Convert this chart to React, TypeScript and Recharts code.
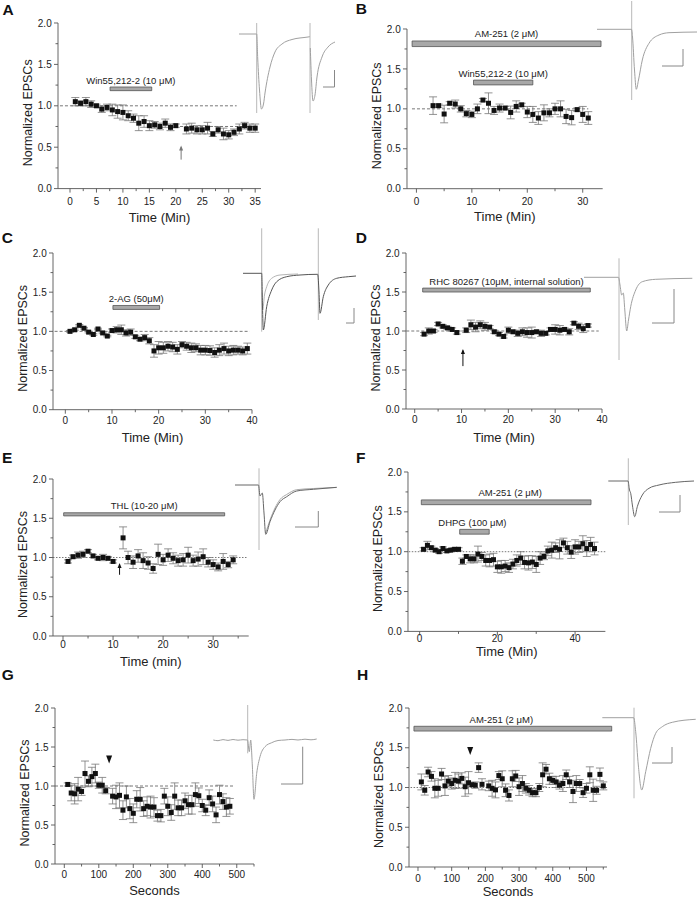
import React from 'react';
import {
  ComposedChart,
  Scatter,
  ErrorBar,
  XAxis,
  YAxis,
  ReferenceLine,
  ReferenceArea,
  ReferenceDot,
  LineChart,
  Line,
} from 'recharts';

/* ------------------------------------------------------------------ */
/*  Eight-panel EPSC time course figure (A–H) with trace insets       */
/* ------------------------------------------------------------------ */

const FONT = '"Liberation Sans", Arial, Helvetica, sans-serif';
const AXIS = '#555';
const TXT = '#222';
const ERR = '#777';

/* ---- A: Win55,212-2 ---- */
const aTime = [1, 2, 3, 4, 5, 6, 7, 8, 9, 10, 11, 12, 13, 14, 15, 16, 17, 18, 19, 20, 22, 23, 24, 25, 26, 27, 28, 29, 30, 31, 32, 33, 34, 35];
const aMean = [1.05, 1.03, 1.05, 1.02, 1.0, 0.96, 0.98, 0.95, 0.93, 0.92, 0.88, 0.85, 0.79, 0.81, 0.76, 0.77, 0.75, 0.79, 0.74, 0.76, 0.72, 0.73, 0.71, 0.71, 0.73, 0.66, 0.71, 0.66, 0.65, 0.68, 0.72, 0.76, 0.73, 0.73];
const aSem = [0.05, 0.03, 0.05, 0.04, 0.02, 0.04, 0.04, 0.07, 0.08, 0.09, 0.06, 0.05, 0.09, 0.07, 0.06, 0.04, 0.04, 0.05, 0.04, 0.02, 0.06, 0.06, 0.05, 0.05, 0.07, 0.03, 0.04, 0.07, 0.05, 0.04, 0.06, 0.04, 0.05, 0.05];

/* ---- B: AM-251 + Win55,212-2 ---- */
const bTime = [3, 4, 5, 6, 7, 8, 9, 10, 11, 12, 13, 14, 15, 16, 17, 18, 19, 20, 21, 22, 23, 24, 25, 26, 27, 28, 29, 30, 31];
const bMean = [1.04, 1.04, 0.935, 1.07, 1.06, 1.0, 0.94, 0.93, 1.0, 1.11, 1.07, 0.98, 1.01, 1.01, 0.955, 1.03, 1.05, 0.96, 0.93, 0.885, 0.95, 0.95, 1.0, 1.0, 0.905, 0.89, 0.99, 0.93, 0.885];
const bSem = [0.11, 0.02, 0.11, 0.02, 0.05, 0.04, 0.04, 0.04, 0.06, 0.02, 0.13, 0.05, 0.05, 0.02, 0.08, 0.07, 0.02, 0.07, 0.1, 0.08, 0.1, 0.05, 0.07, 0.1, 0.09, 0.09, 0.02, 0.1, 0.08];

/* ---- C: 2-AG ---- */
const cTime = [1, 2, 3, 4, 5, 6, 7, 8, 9, 10, 11, 12, 13, 14, 15, 16, 17, 18, 19, 20, 21, 22, 23, 24, 25, 26, 27, 28, 29, 30, 31, 32, 33, 34, 35, 36, 37, 38, 39];
const cMean = [1.0, 1.02, 1.077, 1.04, 0.99, 0.96, 1.03, 0.98, 0.94, 1.01, 1.02, 1.02, 0.98, 0.99, 0.93, 0.9, 0.92, 0.88, 0.75, 0.79, 0.79, 0.81, 0.8, 0.77, 0.83, 0.81, 0.79, 0.79, 0.76, 0.76, 0.755, 0.73, 0.76, 0.78, 0.75, 0.76, 0.76, 0.75, 0.78];
const cSem = [0.01, 0.01, 0.01, 0.01, 0.01, 0.01, 0.01, 0.01, 0.01, 0.02, 0.04, 0.06, 0.04, 0.04, 0.02, 0.02, 0.04, 0.04, 0.08, 0.08, 0.07, 0.06, 0.06, 0.06, 0.04, 0.05, 0.06, 0.05, 0.06, 0.06, 0.06, 0.06, 0.07, 0.07, 0.06, 0.06, 0.05, 0.05, 0.07];

/* ---- D: RHC 80267 ---- */
const dTime = [2, 3, 4, 5, 6, 7, 8, 9, 11, 12, 13, 14, 15, 16, 17, 18, 19, 20, 21, 22, 23, 24, 25, 26, 27, 28, 29, 30, 31, 32, 33, 34, 35, 36, 37];
const dMean = [0.96, 1.0, 1.0, 1.09, 1.06, 1.04, 1.02, 0.98, 1.01, 1.08, 1.05, 1.08, 1.06, 1.05, 0.99, 0.96, 0.93, 1.01, 0.99, 0.97, 0.99, 0.98, 0.98, 0.99, 0.97, 0.97, 1.02, 1.02, 1.01, 1.02, 0.99, 1.1, 1.06, 1.03, 1.07];
const dSem = [0.02, 0.04, 0.02, 0.02, 0.02, 0.02, 0.02, 0.02, 0.03, 0.06, 0.06, 0.05, 0.05, 0.02, 0.02, 0.02, 0.02, 0.04, 0.02, 0.04, 0.05, 0.06, 0.07, 0.02, 0.04, 0.02, 0.02, 0.06, 0.06, 0.02, 0.04, 0.02, 0.04, 0.05, 0.02];

/* ---- E: THL ---- */
const eTime = [1, 2, 3, 4, 5, 6, 7, 8, 9, 10, 12, 13, 14, 15, 16, 17, 18, 19, 20, 21, 22, 23, 24, 25, 26, 27, 28, 29, 30, 31, 32, 33, 34];
const eMean = [0.95, 1.01, 1.03, 1.04, 1.08, 1.02, 0.99, 1.0, 0.99, 0.95, 1.25, 1.0, 0.94, 1.02, 0.96, 0.93, 0.86, 1.04, 0.97, 1.03, 0.99, 0.96, 0.97, 1.03, 0.96, 0.98, 1.01, 0.94, 0.91, 0.88, 0.95, 0.91, 0.97];
const eSem = [0.02, 0.02, 0.04, 0.04, 0.02, 0.02, 0.02, 0.04, 0.02, 0.02, 0.14, 0.08, 0.08, 0.08, 0.1, 0.08, 0.06, 0.13, 0.07, 0.08, 0.07, 0.07, 0.08, 0.1, 0.07, 0.09, 0.1, 0.06, 0.06, 0.05, 0.1, 0.04, 0.05];

/* ---- F: AM-251 + DHPG ---- */
const fTime = [1, 2, 3, 4, 5, 6, 7, 8, 9, 10, 11, 12, 13, 14, 15, 16, 17, 18, 19, 20, 21, 22, 23, 24, 25, 26, 27, 28, 29, 30, 31, 32, 33, 34, 35, 36, 37, 38, 39, 40, 41, 42, 43, 44, 45];
const fMean = [1.03, 1.08, 1.05, 1.02, 1.0, 1.04, 1.01, 1.02, 1.03, 1.03, 0.88, 0.94, 0.91, 0.91, 0.97, 0.94, 0.89, 0.89, 0.9, 0.81, 0.81, 0.82, 0.8, 0.845, 0.89, 0.92, 0.865, 0.86, 0.87, 0.84, 0.92, 0.94, 1.01, 1.02, 1.05, 1.03, 1.11, 1.05, 0.995, 1.06, 1.06, 1.1, 1.04, 1.09, 1.04];
const fSem = [0.02, 0.05, 0.02, 0.02, 0.02, 0.02, 0.02, 0.02, 0.02, 0.02, 0.04, 0.02, 0.05, 0.05, 0.1, 0.05, 0.07, 0.08, 0.08, 0.07, 0.08, 0.07, 0.06, 0.06, 0.07, 0.08, 0.08, 0.09, 0.08, 0.1, 0.08, 0.04, 0.06, 0.1, 0.06, 0.12, 0.06, 0.08, 0.08, 0.09, 0.07, 0.1, 0.1, 0.09, 0.08];

/* ---- G: seconds ---- */
const gTime = [10, 20, 30, 40, 50, 60, 70, 80, 90, 100, 110, 120, 140, 150, 160, 170, 180, 190, 200, 210, 220, 230, 240, 250, 260, 270, 280, 290, 300, 310, 320, 330, 340, 350, 360, 370, 380, 390, 400, 410, 420, 430, 440, 450, 460, 470, 480];
const gMean = [1.02, 0.91, 0.9, 0.96, 0.93, 1.16, 1.06, 1.12, 1.16, 1.01, 1.01, 0.94, 0.87, 0.86, 0.88, 0.69, 0.86, 0.71, 0.65, 0.83, 0.83, 0.71, 0.74, 0.73, 0.73, 0.62, 0.62, 0.87, 0.74, 0.66, 0.87, 0.72, 0.72, 0.81, 0.76, 0.76, 0.89, 0.875, 0.75, 0.69, 0.85, 0.77, 0.63, 0.89, 0.8, 0.73, 0.74];
const gSem = [0.02, 0.1, 0.13, 0.15, 0.05, 0.16, 0.07, 0.12, 0.12, 0.04, 0.1, 0.04, 0.1, 0.15, 0.16, 0.12, 0.14, 0.13, 0.12, 0.11, 0.15, 0.1, 0.12, 0.14, 0.12, 0.07, 0.08, 0.1, 0.12, 0.1, 0.17, 0.1, 0.1, 0.1, 0.12, 0.12, 0.15, 0.1, 0.08, 0.07, 0.1, 0.1, 0.1, 0.12, 0.1, 0.12, 0.1];

/* ---- H: AM-251, seconds ---- */
const hTime = [10, 20, 30, 40, 50, 60, 70, 80, 90, 100, 110, 120, 130, 140, 150, 160, 170, 180, 190, 210, 220, 230, 240, 250, 260, 270, 280, 290, 300, 310, 320, 330, 340, 350, 360, 370, 380, 390, 400, 410, 420, 430, 440, 450, 460, 470, 480, 490, 500, 510, 520, 530, 540, 550];
const hMean = [1.07, 0.965, 1.195, 1.14, 0.99, 0.99, 1.17, 1.02, 1.08, 1.05, 1.09, 1.08, 1.115, 1.01, 1.06, 1.035, 1.03, 1.25, 1.04, 1.02, 0.99, 0.97, 1.15, 1.11, 0.965, 0.9, 1.11, 1.145, 1.01, 1.05, 0.99, 0.965, 0.935, 0.935, 1.0, 1.16, 1.23, 1.11, 1.09, 1.07, 1.03, 1.05, 1.16, 1.07, 0.95, 1.05, 1.05, 0.935, 0.99, 1.16, 0.965, 0.965, 1.165, 1.02];
const hSem = [0.1, 0.06, 0.06, 0.06, 0.12, 0.1, 0.07, 0.12, 0.07, 0.07, 0.1, 0.09, 0.07, 0.12, 0.14, 0.02, 0.04, 0.06, 0.07, 0.06, 0.1, 0.1, 0.05, 0.1, 0.08, 0.07, 0.1, 0.07, 0.11, 0.1, 0.06, 0.06, 0.05, 0.05, 0.05, 0.15, 0.06, 0.07, 0.05, 0.07, 0.05, 0.1, 0.06, 0.07, 0.14, 0.1, 0.05, 0.06, 0.06, 0.1, 0.14, 0.05, 0.08, 0.05];

/* ---- tick lists ---- */
const yTicks = [0, 0.25, 0.5, 0.75, 1, 1.25, 1.5, 1.75, 2];
const ticksA = [0, 2.5, 5, 7.5, 10, 12.5, 15, 17.5, 20, 22.5, 25, 27.5, 30, 32.5, 35];
const ticksB = [0, 5, 10, 15, 20, 25, 30];
const ticks40 = [0, 5, 10, 15, 20, 25, 30, 35, 40];
const ticksE = [0, 5, 10, 15, 20, 25, 30, 35];
const ticksF = [0, 10, 20, 30, 40];
const ticksSec = [0, 50, 100, 150, 200, 250, 300, 350, 400, 450, 500, 550];

/* ---- inset traces: [time, amplitude] in inset units ---- */
type TP = [number, number];
const trA1: TP[] = [[1, 86], [18.7, 86], [19.7, 62], [21.5, 30], [23.5, 11], [25.5, 16], [27, 27], [32, 53], [37, 68], [44, 76], [54, 80.5], [70, 83], [71.8, 83.3]];
const trA2: TP[] = [[72.3, 72], [73.5, 40], [75, 19], [77, 25], [79, 43], [84, 63], [90, 73], [97, 78]];
const trB: TP[] = [[2, 75.7], [36.5, 75.7], [37.5, 68], [39.5, 35], [41.3, 15.7], [43.5, 25], [47.3, 45], [54, 61.7], [64, 70], [74, 72.3], [102, 73]];
const trCdark: TP[] = [[5, 63.7], [23.7, 63.7], [24.5, 30], [25.3, 7], [28.7, 30.3], [33.7, 47], [38.7, 55.3], [48.7, 60.3], [62, 62], [79.7, 62.7], [81, 45], [82, 23.7], [85.3, 40.3], [90.3, 52], [98.7, 58.7], [110.3, 60.3], [118, 61]];
const trCgray: TP[] = [[24, 45], [24.7, 27], [26.5, 42], [28.7, 50.3], [33.7, 58.7], [42, 62], [60, 63]];
const trD: TP[] = [[2, 87.7], [36.5, 87.7], [38, 80], [39.7, 70], [41.3, 72], [42.8, 55], [44.7, 34], [46.5, 45], [48.7, 58.3], [53.7, 75], [60.3, 83.3], [73.7, 85.7], [110.3, 86.7]];
const trE: TP[] = [[2, 68], [25.5, 68], [27, 57], [29.3, 60], [31, 40], [32.7, 18.7], [37, 31.3], [42, 43], [47, 51.3], [53.7, 56.3], [63.7, 62], [80.3, 63.7], [103.7, 65.7]];
const trE2: TP[] = [[32.7, 20], [37, 33], [42, 45], [47, 53.5], [53.7, 58.5], [63.7, 63.3], [80.3, 64.5], [103.7, 65.5]];
const trF: TP[] = [[2.3, 47], [22, 47], [23.5, 38], [24.7, 34.7], [26.5, 22], [28.7, 11.3], [31.3, 21.3], [36.3, 33], [43, 39.7], [53, 43], [69.7, 45.7], [88, 47]];
const trG: TP[] = [[3.3, 65], [8, 64.3], [13, 65.4], [18, 64.6], [23, 65.5], [28, 64.8], [33, 65.3], [37.5, 65], [39.3, 53.3], [40.7, 65], [42.3, 40], [44, 5.7], [46.7, 31.7], [50, 48.3], [55, 58.3], [61.7, 62.3], [68, 64.5], [75, 65], [82, 65.6], [88, 65], [95, 65.8], [101, 65.2], [106.7, 66]];
const trH: TP[] = [[2.3, 82.3], [33.7, 82.3], [35.7, 68.3], [38.3, 35], [41.7, 10], [45.7, 28.3], [50.7, 51.7], [55.7, 66.7], [62.3, 73.3], [72.3, 77.7], [95.7, 80.7]];

type Pt = { x: number; y: number; e: number };
const toPts = (t: number[], m: number[], s: number[]): Pt[] => t.map((x, i) => ({ x, y: m[i], e: s[i] }));

interface Drug { label: string; x1: number; x2: number; y1: number; y2: number; shift?: number }
interface Dash { x1: number; x2: number; y: number; dash: string }
interface PanelCfg {
  left: number; right: number; top: number; bottom: number;
  xDomain: [number, number]; xTicks: number[]; xMajor: number;
  xTitle: string; yTitle: string; tickOff: number; titleOff: number;
  pts: Pt[]; dashes: Dash[]; drugs: Drug[];
  arrows: { x: number; y1: number; y2: number; color: string }[];
  heads: { x: number; y: number }[];
}

const DASH = '3 2';
const DOT = '1.5 1.5';

const panels: PanelCfg[] = [
  {
    left: 58, right: 261, top: 22.7, bottom: 188.3, xDomain: [-2.27, 36.1], xTicks: ticksA, xMajor: 5,
    xTitle: 'Time (Min)', yTitle: 'Normalized EPSCs', tickOff: 12.7, titleOff: 28.7,
    pts: toPts(aTime, aMean, aSem),
    dashes: [{ x1: -1.9, x2: 31.5, y: 1, dash: DASH }, { x1: 20.8, x2: 35.3, y: 0.75, dash: DASH }],
    drugs: [{ label: 'Win55,212-2 (10 μM)', x1: 7.57, x2: 15.45, y1: 1.183, y2: 1.227 }],
    arrows: [{ x: 21, y1: 0.35, y2: 0.52, color: '#777' }], heads: [],
  },
  {
    left: 407.3, right: 603, top: 29.3, bottom: 189, xDomain: [-1.7, 33.6], xTicks: ticksB, xMajor: 10,
    xTitle: 'Time (Min)', yTitle: 'Normalized EPSCs', tickOff: 12.7, titleOff: 27.7,
    pts: toPts(bTime, bMean, bSem),
    dashes: [{ x1: -0.8, x2: 31, y: 1, dash: DASH }],
    drugs: [
      { label: 'AM-251 (2 μM)', x1: -0.78, x2: 33.3, y1: 1.78, y2: 1.85 },
      { label: 'Win55,212-2 (10 μM)', x1: 10.3, x2: 21, y1: 1.3, y2: 1.36 },
    ],
    arrows: [], heads: [],
  },
  {
    left: 53.3, right: 252.3, top: 253.3, bottom: 410, xDomain: [-2.64, 40], xTicks: ticks40, xMajor: 10,
    xTitle: 'Time (Min)', yTitle: 'Normalized EPSCs', tickOff: 10.7, titleOff: 27.5,
    pts: toPts(cTime, cMean, cSem),
    dashes: [{ x1: -2.3, x2: 39.5, y: 1, dash: DASH }],
    drugs: [{ label: '2-AG (50μM)', x1: 10.2, x2: 20.2, y1: 1.28, y2: 1.33 }],
    arrows: [], heads: [],
  },
  {
    left: 406.3, right: 602.3, top: 253.3, bottom: 409.3, xDomain: [-1.86, 40], xTicks: ticks40, xMajor: 10,
    xTitle: 'Time (Min)', yTitle: 'Normalized EPSCs', tickOff: 10, titleOff: 28.7,
    pts: toPts(dTime, dMean, dSem),
    dashes: [{ x1: -1.8, x2: 39.3, y: 1, dash: DASH }],
    drugs: [{ label: 'RHC 80267 (10μM, internal solution)', x1: 1.7, x2: 37.5, y1: 1.5, y2: 1.55 }],
    arrows: [{ x: 10.3, y1: 0.55, y2: 0.77, color: '#111' }], heads: [],
  },
  {
    left: 53.3, right: 249, top: 479.3, bottom: 636.3, xDomain: [-2, 37.1], xTicks: ticksE, xMajor: 10,
    xTitle: 'Time (min)', yTitle: 'Normalized EPSCs', tickOff: 8.7, titleOff: 25.3,
    pts: toPts(eTime, eMean, eSem),
    dashes: [{ x1: -2, x2: 36.7, y: 1, dash: DOT }],
    drugs: [{ label: 'THL (10-20 μM)', x1: 0.13, x2: 32.3, y1: 1.53, y2: 1.57 }],
    arrows: [{ x: 11.3, y1: 0.78, y2: 0.93, color: '#111' }], heads: [],
  },
  {
    left: 408.3, right: 605.7, top: 472.3, bottom: 631.7, xDomain: [-3, 47.8], xTicks: ticksF, xMajor: 20,
    xTitle: 'Time (Min)', yTitle: 'Normalized EPSCs', tickOff: 7.5, titleOff: 20.5,
    pts: toPts(fTime, fMean, fSem),
    dashes: [{ x1: -2.8, x2: 47.8, y: 1, dash: DOT }],
    drugs: [
      { label: 'AM-251 (2 μM)', x1: 0.43, x2: 44.1, y1: 1.59, y2: 1.65, shift: 4 },
      { label: 'DHPG (100 μM)', x1: 10.3, x2: 17.9, y1: 1.22, y2: 1.28, shift: -2 },
    ],
    arrows: [], heads: [],
  },
  {
    left: 55, right: 254, top: 708.3, bottom: 864.3, xDomain: [-27, 550], xTicks: ticksSec, xMajor: 100,
    xTitle: 'Seconds', yTitle: 'Normalized EPSCs', tickOff: 10, titleOff: 26.5,
    pts: toPts(gTime, gMean, gSem),
    dashes: [{ x1: -27, x2: 490, y: 1, dash: DASH }],
    drugs: [], arrows: [], heads: [{ x: 130, y: 1.34 }],
  },
  {
    left: 409, right: 607, top: 707.7, bottom: 866.7, xDomain: [-26.7, 561], xTicks: ticksSec, xMajor: 100,
    xTitle: 'Seconds', yTitle: 'Normalized ESPCs', tickOff: 11.2, titleOff: 24.3,
    pts: toPts(hTime, hMean, hSem),
    dashes: [{ x1: -22, x2: 561, y: 1, dash: DOT }],
    drugs: [{ label: 'AM-251 (2 μM)', x1: -12, x2: 575, y1: 1.71, y2: 1.77, shift: -11.5 }],
    arrows: [], heads: [{ x: 155, y: 1.46 }],
  },
];

interface InsetCfg {
  left: number; top: number; w: number; h: number;
  traces: { pts: TP[]; color: string }[];
  stims: { t: number; v1: number; v2: number }[];
  bar: TP[];
}

const GRAY = '#a0a0a0';
const insets: InsetCfg[] = [
  { left: 238, top: 20, w: 100, h: 100, traces: [{ pts: trA1, color: GRAY }, { pts: trA2, color: GRAY }], stims: [{ t: 18.7, v1: 7, v2: 97 }, { t: 72, v1: 7, v2: 97 }], bar: [[85, 33], [96.5, 33], [96.5, 50]] },
  { left: 595, top: 0, w: 103, h: 105, traces: [{ pts: trB, color: GRAY }], stims: [{ t: 36.7, v1: 5, v2: 104 }], bar: [[67, 39], [88, 39], [88, 56]] },
  { left: 238, top: 222, w: 120, h: 115, traces: [{ pts: trCgray, color: '#b5b5b5' }, { pts: trCdark, color: '#555' }], stims: [{ t: 23.7, v1: 5.3, v2: 108.7 }, { t: 80.3, v1: 17, v2: 108.7 }], bar: [[108, 14], [116, 14], [116, 29]] },
  { left: 582, top: 250, w: 112, h: 115, traces: [{ pts: trD, color: GRAY }], stims: [{ t: 37, v1: 5, v2: 106.7 }], bar: [[70, 42], [92, 42], [92, 76]] },
  { left: 233, top: 465, w: 106, h: 88, traces: [{ pts: trE2, color: '#aaa' }, { pts: trE, color: '#666' }], stims: [{ t: 26, v1: 3, v2: 84.7 }], bar: [[62, 26], [85.3, 26], [85.3, 42]] },
  { left: 606, top: 455, w: 90, h: 73, traces: [{ pts: trF, color: '#666' }], stims: [{ t: 22.3, v1: 3, v2: 69.7 }], bar: [[53, 16], [74, 16], [74, 33]] },
  { left: 210, top: 700, w: 112, h: 105, traces: [{ pts: trG, color: GRAY }], stims: [{ t: 37.7, v1: 51.7, v2: 100 }], bar: [[71, 21], [92.7, 21], [92.7, 58.3]] },
  { left: 600, top: 705, w: 98, h: 95, traces: [{ pts: trH, color: GRAY }], stims: [{ t: 34, v1: 1.7, v2: 92.3 }], bar: [[52, 37], [72, 37], [72, 53]] },
];

const letters = [
  { t: 'A', x: 2.5, y: 14.5 }, { t: 'B', x: 355.7, y: 14.3 },
  { t: 'C', x: 1.7, y: 242.5 }, { t: 'D', x: 355.7, y: 242.5 },
  { t: 'E', x: 2, y: 463.3 }, { t: 'F', x: 356, y: 463.3 },
  { t: 'G', x: 1.7, y: 680.3 }, { t: 'H', x: 357, y: 680.3 },
];

/* ---- axis pieces ---- */
const isMult = (v: number, step: number) => Math.abs(v / step - Math.round(v / step)) < 1e-6;

function XTick({ x, y, payload, major, off }: any) {
  const v = payload.value;
  const big = isMult(v, major);
  const ay = y - 6;
  return (
    <g>
      <line x1={x} x2={x} y1={ay} y2={ay + (big ? 4 : 2.5)} stroke={AXIS} strokeWidth={0.9} />
      {big && (
        <text x={x} y={ay + off + 3.6} textAnchor="middle" fontSize={10} fill={TXT} fontFamily={FONT}>
          {v}
        </text>
      )}
    </g>
  );
}

function YTick({ x, y, payload }: any) {
  const v = payload.value;
  const big = isMult(v, 0.5);
  const ax = x + 6;
  return (
    <g>
      <line x1={ax - (big ? 4 : 2.5)} x2={ax} y1={y} y2={y} stroke={AXIS} strokeWidth={0.9} />
      {big && (
        <text x={ax - 6.3} y={y + 3.6} textAnchor="end" fontSize={10} fill={TXT} fontFamily={FONT}>
          {v.toFixed(1)}
        </text>
      )}
    </g>
  );
}

const YW = 60;
const XH = 40;
const MT = 6;
const MR = 6;

function Square(p: any) {
  const s = 5;
  return <rect x={p.cx - s / 2} y={p.cy - s / 2} width={s} height={s} fill="#111" />;
}

function Panel({ c }: { c: PanelCfg }) {
  const w = c.right - c.left + YW + MR;
  const h = c.bottom - c.top + MT + XH;
  return (
    <div style={{ position: 'absolute', left: c.left - YW, top: c.top - MT, width: w, height: h }}>
      <ComposedChart width={w} height={h} margin={{ top: MT, right: MR, bottom: 0, left: 0 }}>
        <XAxis
          type="number"
          dataKey="x"
          domain={c.xDomain}
          allowDataOverflow
          ticks={c.xTicks}
          interval={0}
          height={XH}
          tickSize={4}
          tickMargin={2}
          tickLine={false}
          axisLine={{ stroke: AXIS, strokeWidth: 0.9 }}
          tick={(p: any) => <XTick {...p} major={c.xMajor} off={c.tickOff} />}
          label={{
            value: c.xTitle,
            content: (p: any) => {
              const vb = p.viewBox;
              return (
                <text x={vb.x + vb.width / 2} y={vb.y + c.titleOff + 4.6} textAnchor="middle" fontSize={13} fill={TXT} fontFamily={FONT}>
                  {c.xTitle}
                </text>
              );
            },
          }}
        />
        <YAxis
          type="number"
          dataKey="y"
          domain={[0, 2]}
          allowDataOverflow
          ticks={yTicks}
          interval={0}
          width={YW}
          tickSize={4}
          tickMargin={2}
          tickLine={false}
          axisLine={{ stroke: AXIS, strokeWidth: 0.9 }}
          tick={(p: any) => <YTick {...p} />}
          label={{
            value: c.yTitle,
            content: (p: any) => {
              const vb = p.viewBox;
              const cx = vb.x + vb.width - 30;
              const cy = vb.y + vb.height / 2 + 7;
              return (
                <text x={cx} y={cy} dy="0.35em" transform={`rotate(-90 ${cx} ${cy})`} textAnchor="middle" fontSize={12.5} fill={TXT} fontFamily={FONT}>
                  {c.yTitle}
                </text>
              );
            },
          }}
        />
        {c.dashes.map((d, i) => (
          <ReferenceLine
            key={'dash' + i}
            segment={[{ x: d.x1, y: d.y }, { x: d.x2, y: d.y }]}
            stroke="#555"
            strokeWidth={0.8}
            strokeDasharray={d.dash}
            ifOverflow="visible"
          />
        ))}
        {c.drugs.map((d, i) => (
          <ReferenceArea
            key={'drug' + i}
            x1={d.x1}
            x2={d.x2}
            y1={d.y1}
            y2={d.y2}
            fill="#a8a8a8"
            fillOpacity={1}
            stroke="#555"
            strokeWidth={0.8}
            ifOverflow="visible"
            label={{
              value: d.label,
              content: (p: any) => {
                const vb = p.viewBox;
                return (
                  <text x={vb.x + vb.width / 2 + (d.shift || 0)} y={vb.y - 3.5} textAnchor="middle" fontSize={9.5} fill={TXT} fontFamily={FONT}>
                    {d.label}
                  </text>
                );
              },
            }}
          />
        ))}
        {c.arrows.map((a, i) => (
          <ReferenceLine
            key={'arrow' + i}
            segment={[{ x: a.x, y: a.y1 }, { x: a.x, y: a.y2 - 0.02 }]}
            stroke={a.color}
            strokeWidth={1}
            ifOverflow="visible"
          />
        ))}
        {c.arrows.map((a, i) => (
          <ReferenceDot
            key={'tip' + i}
            x={a.x}
            y={a.y2}
            r={0}
            ifOverflow="visible"
            shape={(p: any) => (
              <path d={`M${p.cx - 2},${p.cy + 5} L${p.cx},${p.cy} L${p.cx + 2},${p.cy + 5} Z`} fill={a.color} />
            )}
          />
        ))}
        {c.heads.map((hd, i) => (
          <ReferenceDot
            key={'head' + i}
            x={hd.x}
            y={hd.y}
            r={0}
            ifOverflow="visible"
            shape={(p: any) => (
              <path d={`M${p.cx - 3},${p.cy - 4} L${p.cx + 3},${p.cy - 4} L${p.cx},${p.cy + 4} Z`} fill="#111" />
            )}
          />
        ))}
        <Scatter data={c.pts} dataKey="y" isAnimationActive={false} shape={Square}>
          <ErrorBar dataKey="e" direction="y" width={4} stroke={ERR} strokeWidth={0.8} />
        </Scatter>
      </ComposedChart>
    </div>
  );
}

const toTrace = (pts: TP[]) => pts.map(([t, v]) => ({ t, v }));

function Inset({ c }: { c: InsetCfg }) {
  return (
    <div style={{ position: 'absolute', left: c.left, top: c.top, width: c.w, height: c.h }}>
      <LineChart width={c.w} height={c.h} margin={{ top: 0, right: 0, bottom: 0, left: 0 }}>
        <XAxis type="number" dataKey="t" domain={[0, c.w]} hide allowDataOverflow />
        <YAxis type="number" dataKey="v" domain={[0, c.h]} hide allowDataOverflow />
        {c.stims.map((s, i) => (
          <Line
            key={'stim' + i}
            data={[{ t: s.t, v: s.v1 }, { t: s.t, v: s.v2 }]}
            dataKey="v"
            type="linear"
            stroke="#b0b0b0"
            strokeWidth={0.9}
            dot={false}
            isAnimationActive={false}
          />
        ))}
        {c.traces.map((tr, i) => (
          <Line
            key={'tr' + i}
            data={toTrace(tr.pts)}
            dataKey="v"
            type="monotone"
            stroke={tr.color}
            strokeWidth={1}
            dot={false}
            isAnimationActive={false}
          />
        ))}
        <Line data={toTrace(c.bar)} dataKey="v" type="linear" stroke="#888" strokeWidth={1} dot={false} isAnimationActive={false} />
      </LineChart>
    </div>
  );
}

export default function App() {
  return (
    <div style={{ position: 'absolute', left: 0, top: 0, width: 698, height: 899, background: '#fff', fontFamily: FONT }}>
      {panels.map((p, i) => (
        <Panel key={i} c={p} />
      ))}
      {insets.map((c, i) => (
        <Inset key={'in' + i} c={c} />
      ))}
      <svg width={698} height={899} style={{ position: 'absolute', left: 0, top: 0, pointerEvents: 'none' }}>
        {letters.map((l) => (
          <text key={l.t} x={l.x} y={l.y} fontSize={15.5} fontWeight="bold" fill="#111" fontFamily={FONT}>
            {l.t}
          </text>
        ))}
      </svg>
    </div>
  );
}
